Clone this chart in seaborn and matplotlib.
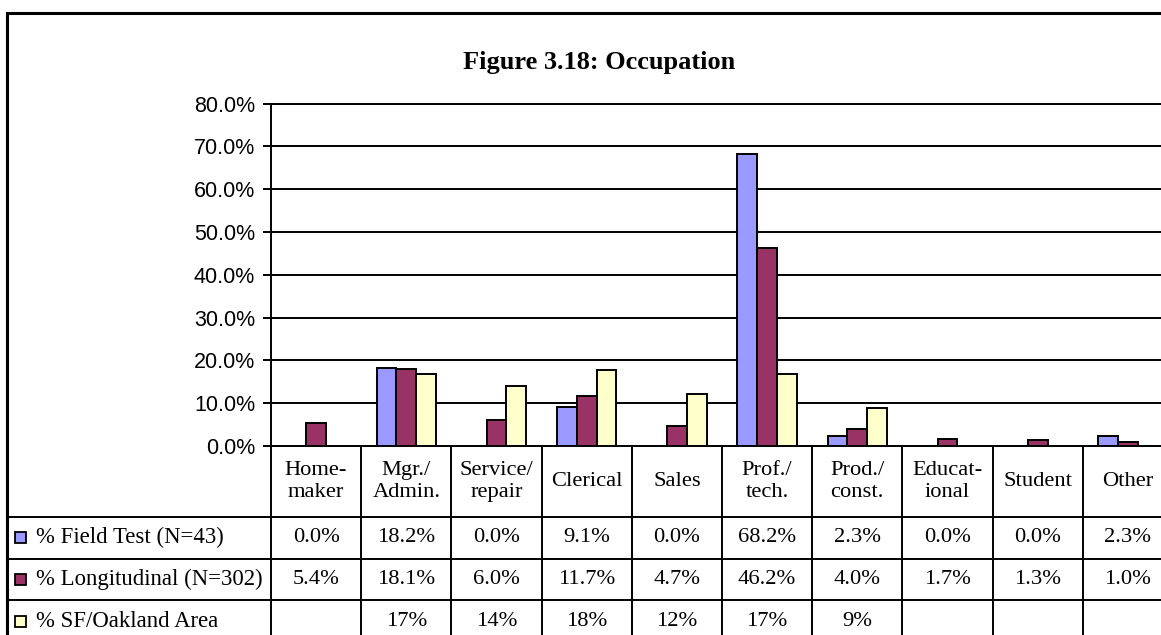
import matplotlib
matplotlib.use("Agg")
import numpy as np
import pandas as pd
import matplotlib.pyplot as plt
import seaborn as sns
from matplotlib.patches import Rectangle
from matplotlib.ticker import FuncFormatter

# Dados
categories = ["Home-\nmaker", "Mgr./\nAdmin.", "Service/\nrepair", "Clerical", "Sales",
              "Prof./\ntech.", "Prod./\nconst.", "Educat-\nional", "Student", "Other"]
field_test = [0.0, 18.2, 0.0, 9.1, 0.0, 68.2, 2.3, 0.0, 0.0, 2.3]
longitudinal = [5.4, 18.1, 6.0, 11.7, 4.7, 46.2, 4.0, 1.7, 1.3, 1.0]
sf_oakland = [np.nan, 16.8, 14.0, 17.7, 12.2, 16.8, 8.8, np.nan, np.nan, np.nan]
series_names = ["% Field Test (N=43)", "% Longitudinal (N=302)", "% SF/Oakland Area"]
series_fmt = ["{:.1f}%", "{:.1f}%", "{:.0f}%"]
y_ticks = [0, 10, 20, 30, 40, 50, 60, 70, 80]
colors = ["#9999FF", "#993366", "#FFFFCC"]

plt.rcParams['font.family'] = ['Liberation Sans', 'DejaVu Sans']

series_values = [field_test, longitudinal, sf_oakland]
rows = []
for name, vals in zip(series_names, series_values):
    for cat, v in zip(categories, vals):
        rows.append({"cat": cat, "series": name, "val": v})
df = pd.DataFrame(rows)

W, H = 1161, 635
fig = plt.figure(figsize=(W / 100, H / 100), dpi=100)


def fx(px):
    return px / W


def fy(py):
    return 1 - py / H


# area do grafico (passa da borda direita, como no original)
left_px, right_px, top_px, zero_px = 271, 1173, 103.5, 446
ax = fig.add_axes([fx(left_px), fy(zero_px), fx(right_px) - fx(left_px), fy(top_px) - fy(zero_px)])
sns.barplot(data=df, x="cat", y="val", hue="series", order=categories, hue_order=series_names,
            palette=colors, saturation=1, width=0.66, edgecolor="black", linewidth=1.4,
            ax=ax, legend=False, errorbar=None)
ax.set_xlim(-0.5, len(categories) - 0.5)
ax.set_ylim(0, 80)
ax.set_yticks(y_ticks)
ax.yaxis.set_major_formatter(FuncFormatter(lambda v, p: "{:.1f}%".format(v)))
ax.yaxis.grid(True, color="black", lw=1.4)
ax.set_axisbelow(True)
ax.set_xlabel("")
ax.set_ylabel("")
ax.tick_params(axis="x", length=0, labelbottom=False)
ax.tick_params(axis="y", labelsize=15.5, length=5.5, width=1.4, pad=6, colors="black")
for s in ["left", "bottom", "top"]:
    ax.spines[s].set_color("black")
    ax.spines[s].set_linewidth(1.4)
ax.spines["right"].set_visible(False)

# tabela de dados
row_heights = [1.7, 1, 1, 1]
row_edges = np.concatenate([[0], np.cumsum(row_heights)])
row_px = 41.7
frame_px = 6.7
col_px = (right_px - left_px) / len(categories)
label_w = (left_px - frame_px) / col_px
tx0 = -0.5 - label_w
bottom_px = zero_px + row_edges[-1] * row_px
tax = fig.add_axes([fx(frame_px), fy(bottom_px), fx(right_px) - fx(frame_px), fy(zero_px) - fy(bottom_px)])
tax.set_xlim(tx0, len(categories) - 0.5)
tax.set_ylim(row_edges[-1], 0)
tax.axis("off")

serif = ['Liberation Serif', 'DejaVu Serif']
xb = np.arange(len(categories) + 1) - 0.5
tax.vlines(xb, 0, row_edges[-1], color="black", lw=1.4, clip_on=False)
tax.hlines(row_edges[1:-1], tx0, len(categories) - 0.5, color="black", lw=1.4, clip_on=False)

for i, cat in enumerate(categories):
    tax.text(i, row_edges[0] + row_heights[0] / 2, cat, ha="center", va="center",
             family=serif, fontsize=16.2, linespacing=1.2)

for r, (name, vals, fmt) in enumerate(zip(series_names, series_values, series_fmt)):
    yc = row_edges[r + 1] + row_heights[r + 1] / 2
    for i, v in enumerate(vals):
        if not np.isnan(v):
            tax.text(i, yc, fmt.format(v), ha="center", va="center", family=serif, fontsize=16.2)
    kw, kh = 11.5 / col_px, 11 / row_px
    tax.add_patch(Rectangle((tx0 + (15 - frame_px) / col_px, yc - kh / 2), kw, kh,
                            facecolor=colors[r], edgecolor="black", lw=1.3, clip_on=False))
    tax.text(tx0 + (36.5 - frame_px) / col_px, yc, name, ha="left", va="center",
             family=serif, fontsize=16.4)

# titulo e moldura
fig.text(fx(599), fy(62), "Figure 3.18: Occupation", ha="center", va="center",
         family=serif, fontweight="bold", fontsize=19)
fig.add_artist(Rectangle((fx(frame_px), fy(800)), 2, fy(12.7) - fy(800),
                         transform=fig.transFigure, fill=False, lw=2.2, ec="black"))

fig.savefig("out.png", dpi=100)
